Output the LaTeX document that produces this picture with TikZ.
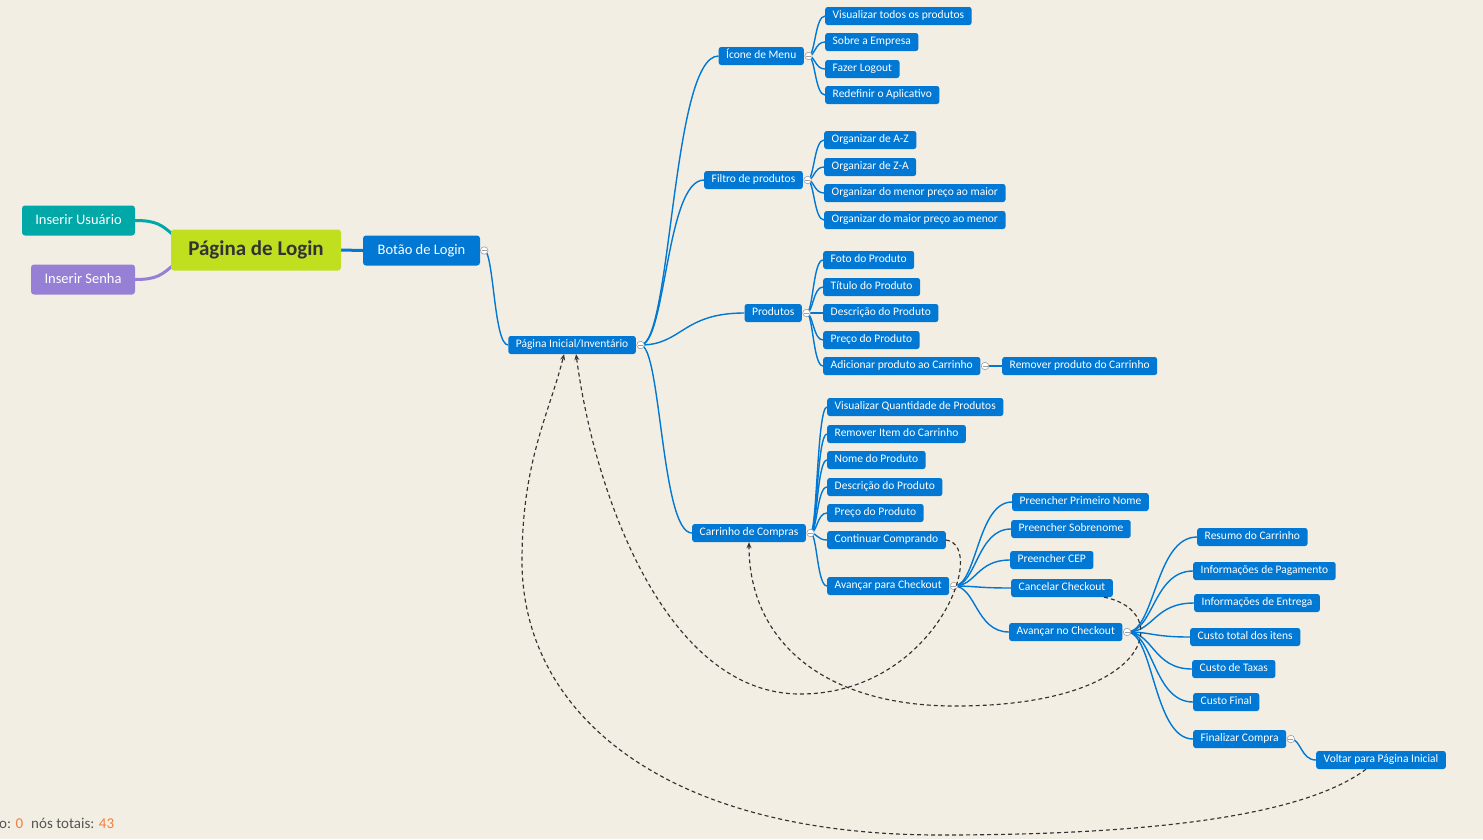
\documentclass[tikz,border=0pt]{standalone}
\usepackage{fontspec}
\setmainfont{Carlito}
\usetikzlibrary{arrows.meta,calc}
\pgfdeclarelayer{bg}
\pgfsetlayers{bg,main}
\definecolor{paper}{RGB}{243,238,228}
\definecolor{mmblue}{RGB}{0,120,212}
\definecolor{rootlime}{RGB}{191,223,31}
\definecolor{userteal}{RGB}{0,168,168}
\definecolor{passviolet}{RGB}{150,128,214}
\definecolor{inkgray}{RGB}{51,51,51}
\definecolor{stattext}{RGB}{85,85,85}
\definecolor{statnum}{RGB}{240,128,60}
\definecolor{togline}{RGB}{160,160,160}
\begin{document}
\begin{tikzpicture}[x=1pt,y=-1pt,
  box/.style={fill=mmblue, text=white, rounded corners=2.5pt,
    font=\fontsize{11.5}{12}\selectfont, inner xsep=7.5pt, inner ysep=0pt,
    minimum height=18pt, text height=8pt, text depth=2.5pt},
  leaf/.style={box, anchor=west},
  hub/.style={box, anchor=east},
  bigbox/.style={text=white, rounded corners=3pt, font=\fontsize{14.5}{16}\selectfont,
    minimum height=30pt, inner sep=0pt, text height=10pt, text depth=3pt},
  tog/.style={circle, draw=togline, fill=white, inner sep=0pt, minimum size=7.5pt, line width=0.6pt,
    path picture={\draw[togline, line width=0.6pt]
      ([xshift=-2.5pt]path picture bounding box.center) -- ([xshift=2.5pt]path picture bounding box.center);}},
  mm/.style={to path={.. controls ($(\tikztostart)!0.4!(\tikztostart -| \tikztotarget)$)
      and ($(\tikztotarget)!0.6!(\tikztotarget -| \tikztostart)$) .. (\tikztotarget)}},
  link/.style={draw=mmblue, line width=1.4pt},
  back/.style={draw=inkgray, line width=1.15pt, dash pattern=on 4pt off 3pt,
    -{Stealth[length=6pt,width=5pt]}},
]
% paper background
\begin{pgfonlayer}{bg}
  \fill[paper] (0,0) rectangle (1483,839);
\end{pgfonlayer}
\useasboundingbox (0,0) rectangle (1483,839);

\begin{scope}[yshift=-1pt]
% central topic and its inputs
\node[fill=rootlime, text=inkgray, rounded corners=3pt, minimum width=170pt, minimum height=41pt,
  inner sep=0pt, font=\bfseries\fontsize{21}{23}\selectfont] (root) at (256,249) {Página de Login};
\node[bigbox, fill=userteal, minimum width=113pt] (usr) at (78.5,219.5) {Inserir Usuário};
\node[bigbox, fill=passviolet, minimum width=104pt] (pwd) at (83,278.5) {Inserir Senha};
\node[bigbox, fill=mmblue, minimum width=117pt] (btn) at (421.5,249.5) {Botão de Login};
\node[tog] (tbtn) at ([xshift=4pt]btn.east) {};

% home page and its branches
\node[hub] (pi) at (636,344) {Página Inicial/Inventário};
\node[tog] (tpi) at ([xshift=4.5pt]pi.east) {};
\node[hub] (menu) at (804,55) {Ícone de Menu};
\node[hub] (filt) at (803,179) {Filtro de produtos};
\node[hub] (prod) at (802,312) {Produtos};
\node[hub] (cart) at (806,532) {Carrinho de Compras};
\node[tog] (tmenu) at ([xshift=4.5pt]menu.east) {};
\node[tog] (tfilt) at ([xshift=4.5pt]filt.east) {};
\node[tog] (tprod) at ([xshift=4.5pt]prod.east) {};
\node[tog] (tcart) at ([xshift=4.5pt]cart.east) {};

% menu
\node[leaf] (m1) at (825,15) {Visualizar todos os produtos};
\node[leaf] (m2) at (825,41) {Sobre a Empresa};
\node[leaf] (m3) at (825,68) {Fazer Logout};
\node[leaf] (m4) at (825,94) {Redefinir o Aplicativo};
% filter
\node[leaf] (f1) at (824,139) {Organizar de A-Z};
\node[leaf] (f2) at (824,166) {Organizar de Z-A};
\node[leaf] (f3) at (824,192) {Organizar do menor preço ao maior};
\node[leaf] (f4) at (824,219) {Organizar do maior preço ao menor};
% products
\node[leaf] (p1) at (823,259) {Foto do Produto};
\node[leaf] (p2) at (823,286) {Título do Produto};
\node[leaf] (p3) at (823,312) {Descrição do Produto};
\node[leaf] (p4) at (823,339) {Preço do Produto};
\node[leaf] (p5) at (823,365) {Adicionar produto ao Carrinho};
\node[tog] (tp5) at ([xshift=4.5pt]p5.east) {};
\node[leaf] (p6) at (1002,365) {Remover produto do Carrinho};
% cart
\node[leaf] (c1) at (827,406) {Visualizar Quantidade de Produtos};
\node[leaf] (c2) at (827,433) {Remover Item do Carrinho};
\node[leaf] (c3) at (827,459) {Nome do Produto};
\node[leaf] (c4) at (827,486) {Descrição do Produto};
\node[leaf] (c5) at (827,512) {Preço do Produto};
\node[leaf] (c6) at (827,539) {Continuar Comprando};
\node[leaf] (c7) at (827,585) {Avançar para Checkout};
\node[tog] (tc7) at ([xshift=4.5pt]c7.east) {};
% checkout step one
\node[leaf] (k1) at (1012,501) {Preencher Primeiro Nome};
\node[leaf] (k2) at (1011,528) {Preencher Sobrenome};
\node[leaf] (k3) at (1010,559) {Preencher CEP};
\node[leaf] (k4) at (1011,587) {Cancelar Checkout};
\node[leaf] (k5) at (1009,631) {Avançar no Checkout};
\node[tog] (tk5) at ([xshift=4.5pt]k5.east) {};
% checkout step two
\node[leaf] (n1) at (1197,536) {Resumo do Carrinho};
\node[leaf] (n2) at (1193,570) {Informações de Pagamento};
\node[leaf] (n3) at (1194,602) {Informações de Entrega};
\node[leaf] (n4) at (1190,636) {Custo total dos itens};
\node[leaf] (n5) at (1192,668) {Custo de Taxas};
\node[leaf] (n6) at (1193,701) {Custo Final};
\node[leaf] (n7) at (1193,738) {Finalizar Compra};
\node[tog] (tn7) at ([xshift=4.5pt]n7.east) {};
\node[leaf] (v1) at (1316,759) {Voltar para Página Inicial};

% waypoints of the return paths
\coordinate (wa) at (800,693);
\coordinate (wb) at (955,705);
\coordinate (wc1) at (940,834);
\coordinate (wc2) at (522,560);
\end{scope}

% status line
\node[anchor=base west, inner sep=0pt, text=stattext, font=\fontsize{15}{16}\selectfont] (stat) at (-1,828)
  {o: \textcolor{statnum}{0}\hspace{8pt}nós totais: \textcolor{statnum}{43}};

% branch lines
\begin{pgfonlayer}{bg}
  \draw[userteal, line width=3pt] (usr.east) .. controls +(22,0) and +(-12,-10) .. ([xshift=3pt,yshift=-6pt]root.north west);
  \draw[passviolet, line width=3pt] (pwd.east) .. controls +(22,0) and +(-12,10) .. ([xshift=3pt,yshift=6pt]root.south west);
  \draw[mmblue, line width=3pt] (root.east) -- (btn.west);
  \draw[link] (tbtn.center) to[mm] (pi.west);
  \foreach \t in {menu,filt,prod,cart} \draw[link] (tpi.center) to[mm] (\t.west);
  \foreach \t in {m1,m2,m3,m4} \draw[link] (tmenu.center) to[mm] (\t.west);
  \foreach \t in {f1,f2,f3,f4} \draw[link] (tfilt.center) to[mm] (\t.west);
  \foreach \t in {p1,p2,p3,p4,p5} \draw[link] (tprod.center) to[mm] (\t.west);
  \draw[link] (tp5.center) to[mm] (p6.west);
  \foreach \t in {c1,c2,c3,c4,c5,c6,c7} \draw[link] (tcart.center) to[mm] (\t.west);
  \foreach \t in {k1,k2,k3,k4,k5} \draw[link] (tc7.center) to[mm] (\t.west);
  \foreach \t in {n1,n2,n3,n4,n5,n6,n7} \draw[link] (tk5.center) to[mm] (\t.west);
  \draw[link] (tn7.center) to[mm] (v1.west);
\end{pgfonlayer}

% return paths
\draw[back] (c6.east) .. controls +(43,6) and +(135,0) .. (wa)
  .. controls +(-130,0) and +(20,150) .. ([xshift=4pt]pi.south);
\draw[back] ([xshift=-9pt]k4.south east) .. controls +(70,13) and +(200,0) .. (wb)
  .. controls +(-130,0) and +(0,100) .. (cart.south);
\draw[back] ([xshift=-15pt]v1.south) .. controls +(-60,45) and +(220,0) .. (wc1)
  .. controls +(-280,0) and +(0,150) .. (wc2)
  .. controls +(0,-100) and +(-15,60) .. ([xshift=-8pt]pi.south);
\end{tikzpicture}
\end{document}
